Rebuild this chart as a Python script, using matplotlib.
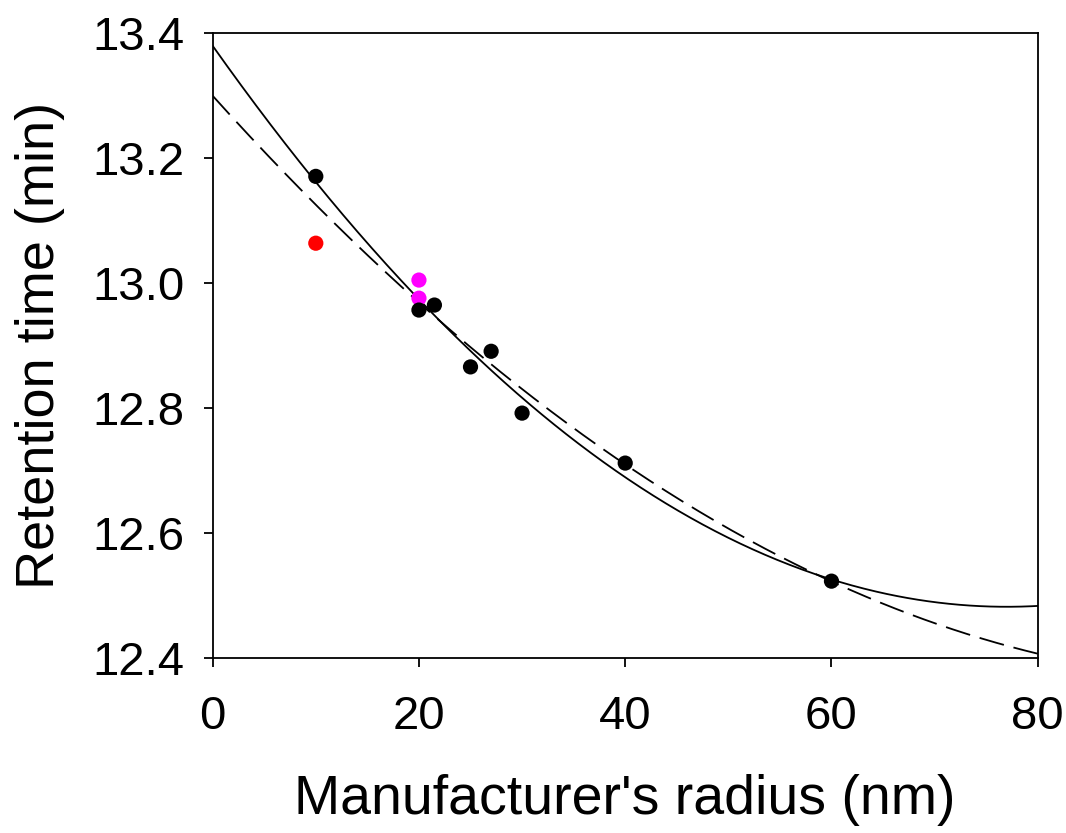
import numpy as np
import matplotlib
matplotlib.use("Agg")
import matplotlib.pyplot as plt

plt.rcParams['font.family'] = ['Liberation Sans', 'DejaVu Sans']

# Data
black_x = [10, 20, 21.5, 25, 27, 30, 40, 60]
black_y = [13.171, 12.957, 12.965, 12.866, 12.891, 12.792, 12.712, 12.523]
red_x = [10]
red_y = [13.064]
magenta_x = [20, 20]
magenta_y = [13.005, 12.976]

# Fitted curves (quadratic coefficients: c0, c1, c2)
solid_coef = [13.380, -0.023325, 1.5146e-4]
dashed_coef = [13.300, -0.01834, 8.97e-5]

xticks = [0, 20, 40, 60, 80]
yticks = [12.4, 12.6, 12.8, 13.0, 13.2, 13.4]

fig = plt.figure(figsize=(10.66, 8.33), dpi=100)
ax = fig.add_axes([0.1995, 0.2101, 0.774, 0.7499])

xs = np.linspace(0, 80, 400)
ax.plot(xs, solid_coef[0] + solid_coef[1]*xs + solid_coef[2]*xs**2,
        color='black', lw=1.3, zorder=2)
ax.plot(xs, dashed_coef[0] + dashed_coef[1]*xs + dashed_coef[2]*xs**2,
        color='black', lw=1.3, dashes=(14, 5.5), zorder=2)

ax.scatter(red_x, red_y, s=120, color='#ff0000', edgecolors='none', zorder=3)
ax.scatter(magenta_x, magenta_y, s=120, color='#ff00ff', edgecolors='none', zorder=3)
ax.scatter(black_x, black_y, s=120, color='black', edgecolors='none', zorder=4)

ax.set_xlim(0, 80)
ax.set_ylim(12.4, 13.4)
ax.set_xticks(xticks)
ax.set_xticklabels([str(t) for t in xticks])
ax.set_yticks(yticks)
ax.set_yticklabels([f"{t:.1f}" for t in yticks])

ax.tick_params(axis='both', direction='out', length=6.5, width=1.3,
               labelsize=34, top=False, right=False)
ax.tick_params(axis='x', pad=20)
ax.tick_params(axis='y', pad=14)
for sp in ax.spines.values():
    sp.set_linewidth(1.3)

ax.set_xlabel("Manufacturer's radius (nm)", fontsize=40)
ax.set_ylabel("Retention time (min)", fontsize=39)
ax.xaxis.set_label_coords(0.5, -0.186)
ax.yaxis.set_label_coords(-0.179, 0.5)

fig.savefig("out.png", dpi=100)
